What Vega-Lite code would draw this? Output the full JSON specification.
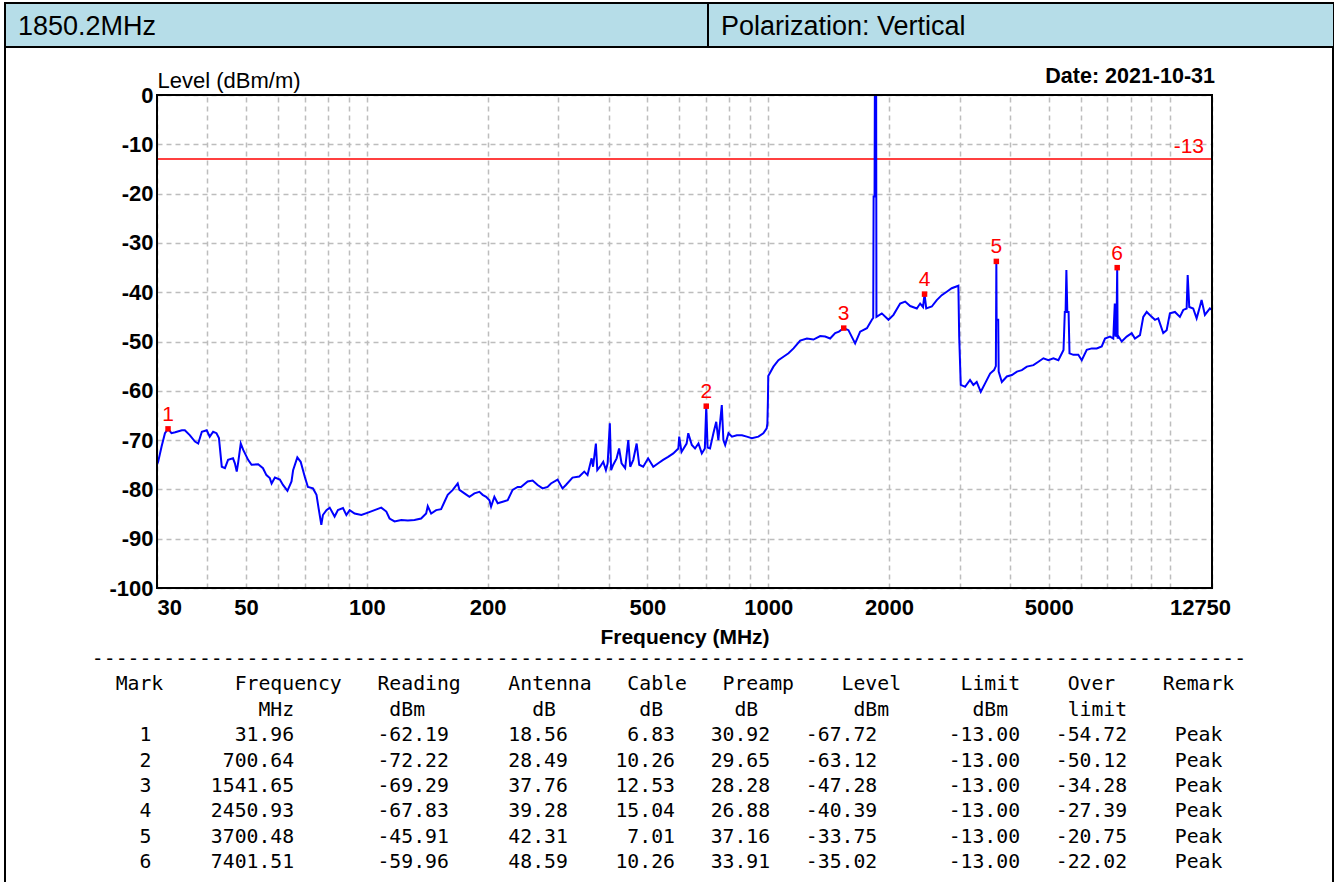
{
  "$schema": "https://vega.github.io/schema/vega-lite/v6.json",
  "width": 1328,
  "height": 899,
  "autosize": {"type": "none"},
  "padding": {"left": 5, "top": 3, "right": 5, "bottom": -20},
  "background": "white",
  "config": {"view": {"stroke": "#000000", "strokeWidth": 2}},
  "datasets": {
    "trace": [
      {"f":30,"l":-75.0},{"f":30.2,"l":-74.4},{"f":30.8,"l":-71.3},{"f":31.4,"l":-68.6},{"f":31.96,"l":-67.72},{"f":32.6,"l":-68.6},{"f":33.3,"l":-68.4},{"f":34.6,"l":-68.0},{"f":35.2,"l":-68.0},{"f":36.2,"l":-69.0},{"f":37.3,"l":-70.3},{"f":38.0,"l":-70.7},{"f":38.8,"l":-68.3},{"f":39.9,"l":-68.0},{"f":40.6,"l":-69.3},{"f":41.4,"l":-68.3},{"f":42.2,"l":-68.6},{"f":42.8,"l":-69.6},{"f":43.5,"l":-75.4},{"f":44.3,"l":-75.7},{"f":45.1,"l":-74.0},{"f":46.4,"l":-73.7},{"f":46.9,"l":-74.7},{"f":47.4,"l":-76.4},{"f":47.8,"l":-74.5},{"f":48.5,"l":-70.7},{"f":49.2,"l":-72.0},{"f":50.6,"l":-74.0},{"f":51.6,"l":-75.0},{"f":53.6,"l":-74.9},{"f":55.1,"l":-75.7},{"f":56.2,"l":-77.1},{"f":57.3,"l":-77.7},{"f":57.9,"l":-78.8},{"f":59.0,"l":-77.6},{"f":60.7,"l":-78.0},{"f":61.8,"l":-79.1},{"f":63.4,"l":-80.3},{"f":64.9,"l":-78.4},{"f":65.5,"l":-76.1},{"f":67.1,"l":-73.5},{"f":68.4,"l":-74.4},{"f":70.0,"l":-77.4},{"f":71.3,"l":-79.5},{"f":73.4,"l":-79.8},{"f":74.9,"l":-81.1},{"f":75.8,"l":-83.8},{"f":77.0,"l":-87.2},{"f":77.7,"l":-85.2},{"f":79.3,"l":-84.2},{"f":80.8,"l":-83.7},{"f":83.1,"l":-85.5},{"f":84.7,"l":-84.2},{"f":87.2,"l":-83.8},{"f":88.9,"l":-85.2},{"f":90.6,"l":-84.2},{"f":93.2,"l":-84.9},{"f":96.9,"l":-85.2},{"f":100.6,"l":-84.7},{"f":104.5,"l":-84.2},{"f":108.6,"l":-83.7},{"f":111.8,"l":-84.5},{"f":113.9,"l":-85.9},{"f":117.2,"l":-86.5},{"f":121.8,"l":-86.2},{"f":126.5,"l":-86.3},{"f":131.4,"l":-86.2},{"f":136.5,"l":-85.9},{"f":140.5,"l":-84.9},{"f":141.8,"l":-83.4},{"f":144.6,"l":-84.9},{"f":148.8,"l":-84.2},{"f":153.1,"l":-84.0},{"f":156.1,"l":-82.5},{"f":159.0,"l":-81.1},{"f":163.7,"l":-80.1},{"f":168.4,"l":-78.8},{"f":170.1,"l":-80.1},{"f":175.0,"l":-80.8},{"f":180.1,"l":-81.5},{"f":185.3,"l":-80.8},{"f":190.7,"l":-80.5},{"f":194.3,"l":-81.1},{"f":198.2,"l":-81.5},{"f":202.0,"l":-82.2},{"f":203.9,"l":-83.5},{"f":207.8,"l":-81.5},{"f":211.8,"l":-82.8},{"f":218.0,"l":-82.5},{"f":224.3,"l":-82.2},{"f":230.7,"l":-80.1},{"f":237.5,"l":-79.5},{"f":242.1,"l":-79.5},{"f":251.5,"l":-78.4},{"f":258.8,"l":-78.2},{"f":266.3,"l":-79.1},{"f":274.0,"l":-79.8},{"f":282.0,"l":-79.5},{"f":287.5,"l":-78.8},{"f":298.6,"l":-78.0},{"f":307.2,"l":-79.8},{"f":313.2,"l":-79.1},{"f":325.3,"l":-77.6},{"f":338.2,"l":-77.4},{"f":348.0,"l":-76.4},{"f":354.6,"l":-77.1},{"f":363,"l":-73.7},{"f":366,"l":-75.4},{"f":372,"l":-70.7},{"f":375,"l":-76.1},{"f":381,"l":-75.4},{"f":388,"l":-74.4},{"f":394,"l":-76.1},{"f":398,"l":-74.7},{"f":403,"l":-66.6},{"f":406,"l":-76.1},{"f":411,"l":-75.0},{"f":419,"l":-73.7},{"f":425,"l":-71.7},{"f":431,"l":-74.7},{"f":440,"l":-75.7},{"f":448,"l":-70.0},{"f":453,"l":-75.4},{"f":461,"l":-74.0},{"f":470,"l":-70.7},{"f":477,"l":-75.0},{"f":488,"l":-75.4},{"f":502,"l":-73.7},{"f":517,"l":-75.4},{"f":532,"l":-74.7},{"f":547,"l":-74.0},{"f":563,"l":-73.4},{"f":580,"l":-72.7},{"f":597,"l":-71.7},{"f":600,"l":-69.3},{"f":608,"l":-72.4},{"f":626,"l":-70.7},{"f":632,"l":-68.6},{"f":645,"l":-71.0},{"f":657,"l":-71.7},{"f":670,"l":-70.7},{"f":683,"l":-72.7},{"f":695,"l":-71.7},{"f":700.64,"l":-63.12},{"f":706,"l":-71.5},{"f":716,"l":-71.7},{"f":730,"l":-68.6},{"f":742,"l":-66.3},{"f":751,"l":-70.0},{"f":766,"l":-62.9},{"f":773,"l":-70.0},{"f":781,"l":-71.0},{"f":796,"l":-68.6},{"f":812,"l":-69.3},{"f":835,"l":-69.0},{"f":860,"l":-69.0},{"f":884,"l":-69.3},{"f":910,"l":-69.6},{"f":945,"l":-69.3},{"f":972,"l":-68.6},{"f":991,"l":-67.6},{"f":995,"l":-66.6},{"f":998,"l":-62.0},{"f":1000,"l":-57.0},{"f":1030,"l":-55.1},{"f":1060,"l":-53.8},{"f":1091,"l":-53.1},{"f":1123,"l":-52.4},{"f":1156,"l":-51.4},{"f":1201,"l":-49.8},{"f":1248,"l":-49.4},{"f":1296,"l":-49.6},{"f":1347,"l":-48.9},{"f":1386,"l":-49.0},{"f":1426,"l":-49.4},{"f":1468,"l":-48.3},{"f":1500,"l":-48.0},{"f":1541.65,"l":-47.28},{"f":1584,"l":-47.7},{"f":1646,"l":-50.4},{"f":1694,"l":-48.0},{"f":1761,"l":-47.3},{"f":1812,"l":-45.6},{"f":1826,"l":-45.2},{"f":1830,"l":-20.6},{"f":1840,"l":-20.6},{"f":1843,"l":0},{"f":1857,"l":0},{"f":1860,"l":-45.0},{"f":1918,"l":-44.3},{"f":1993,"l":-45.6},{"f":2051,"l":-44.6},{"f":2131,"l":-42.3},{"f":2193,"l":-41.9},{"f":2257,"l":-42.8},{"f":2345,"l":-43.3},{"f":2390,"l":-42.3},{"f":2430,"l":-43.0},{"f":2450.93,"l":-40.39},{"f":2475,"l":-43.3},{"f":2555,"l":-42.9},{"f":2629,"l":-41.6},{"f":2705,"l":-40.6},{"f":2784,"l":-39.9},{"f":2865,"l":-39.2},{"f":2976,"l":-38.7},{"f":2990,"l":-49.0},{"f":3017,"l":-58.8},{"f":3093,"l":-59.2},{"f":3182,"l":-57.8},{"f":3243,"l":-58.8},{"f":3306,"l":-58.2},{"f":3384,"l":-60.2},{"f":3469,"l":-58.5},{"f":3570,"l":-56.5},{"f":3652,"l":-55.8},{"f":3690,"l":-55.0},{"f":3700.48,"l":-33.75},{"f":3706,"l":-45.6},{"f":3740,"l":-45.6},{"f":3750,"l":-56.1},{"f":3819,"l":-58.2},{"f":3930,"l":-57.1},{"f":4045,"l":-56.8},{"f":4164,"l":-56.1},{"f":4283,"l":-55.8},{"f":4408,"l":-55.1},{"f":4578,"l":-54.8},{"f":4710,"l":-54.1},{"f":4847,"l":-53.4},{"f":4988,"l":-53.8},{"f":5133,"l":-53.4},{"f":5282,"l":-53.8},{"f":5440,"l":-51.7},{"f":5480,"l":-44.0},{"f":5505,"l":-44.0},{"f":5530,"l":-35.5},{"f":5560,"l":-44.0},{"f":5600,"l":-44.0},{"f":5630,"l":-52.4},{"f":5756,"l":-52.7},{"f":5922,"l":-52.7},{"f":6040,"l":-53.8},{"f":6215,"l":-51.7},{"f":6396,"l":-51.4},{"f":6582,"l":-51.4},{"f":6773,"l":-51.0},{"f":6902,"l":-49.4},{"f":7103,"l":-49.0},{"f":7237,"l":-49.4},{"f":7300,"l":-42.3},{"f":7330,"l":-49.0},{"f":7370,"l":-48.5},{"f":7401.51,"l":-35.02},{"f":7420,"l":-49.4},{"f":7460,"l":-49.0},{"f":7596,"l":-50.0},{"f":7816,"l":-49.0},{"f":8043,"l":-48.3},{"f":8195,"l":-49.4},{"f":8435,"l":-48.7},{"f":8596,"l":-45.0},{"f":8766,"l":-44.0},{"f":9021,"l":-45.0},{"f":9192,"l":-45.6},{"f":9366,"l":-45.3},{"f":9639,"l":-48.3},{"f":9829,"l":-47.7},{"f":10015,"l":-44.3},{"f":10308,"l":-44.0},{"f":10606,"l":-45.0},{"f":10810,"l":-43.6},{"f":11023,"l":-43.3},{"f":11090,"l":-36.5},{"f":11190,"l":-43.0},{"f":11447,"l":-43.3},{"f":11674,"l":-45.3},{"f":11896,"l":-42.9},{"f":12010,"l":-41.6},{"f":12242,"l":-44.6},{"f":12597,"l":-43.3},{"f":12750,"l":-43.6}
    ],
    "markers": [
      {"mark":"1","f":31.96,"l":-67.72},
      {"mark":"2","f":700.64,"l":-63.12},
      {"mark":"3","f":1541.65,"l":-47.28},
      {"mark":"4","f":2450.93,"l":-40.39},
      {"mark":"5","f":3700.48,"l":-33.75},
      {"mark":"6","f":7401.51,"l":-35.02}
    ],
    "header": [
      {"row":"header","cell":"1850.2MHz"},
      {"row":"header","cell":"Polarization: Vertical"}
    ],
    "table": [
      {"line":"sep","text":"-------------------------------------------------------------------------------------------------"},
      {"line":"h1","text":"\u200b\u00a0\u00a0Mark\u00a0\u00a0\u00a0\u00a0\u00a0\u00a0Frequency\u00a0\u00a0\u00a0Reading\u00a0\u00a0\u00a0\u00a0Antenna\u00a0\u00a0\u00a0Cable\u00a0\u00a0\u00a0Preamp\u00a0\u00a0\u00a0\u00a0Level\u00a0\u00a0\u00a0\u00a0\u00a0Limit\u00a0\u00a0\u00a0\u00a0Over\u00a0\u00a0\u00a0\u00a0Remark\u00a0\u200b"},
      {"line":"h2","text":"\u200b\u00a0\u00a0\u00a0\u00a0\u00a0\u00a0\u00a0\u00a0\u00a0\u00a0\u00a0\u00a0\u00a0\u00a0MHz\u00a0\u00a0\u00a0\u00a0\u00a0\u00a0\u00a0\u00a0dBm\u00a0\u00a0\u00a0\u00a0\u00a0\u00a0\u00a0\u00a0\u00a0dB\u00a0\u00a0\u00a0\u00a0\u00a0\u00a0\u00a0dB\u00a0\u00a0\u00a0\u00a0\u00a0\u00a0dB\u00a0\u00a0\u00a0\u00a0\u00a0\u00a0\u00a0\u00a0dBm\u00a0\u00a0\u00a0\u00a0\u00a0\u00a0\u00a0dBm\u00a0\u00a0\u00a0\u00a0\u00a0limit\u00a0\u00a0\u00a0\u00a0\u00a0\u00a0\u00a0\u00a0\u00a0\u00a0\u200b"},
      {"line":"1","text":"\u200b\u00a0\u00a0\u00a0\u00a01\u00a0\u00a0\u00a0\u00a0\u00a0\u00a0\u00a031.96\u00a0\u00a0\u00a0\u00a0\u00a0\u00a0\u00a0-62.19\u00a0\u00a0\u00a0\u00a0\u00a018.56\u00a0\u00a0\u00a0\u00a0\u00a06.83\u00a0\u00a0\u00a030.92\u00a0\u00a0\u00a0-67.72\u00a0\u00a0\u00a0\u00a0\u00a0\u00a0-13.00\u00a0\u00a0\u00a0-54.72\u00a0\u00a0\u00a0\u00a0Peak\u00a0\u00a0\u200b"},
      {"line":"2","text":"\u200b\u00a0\u00a0\u00a0\u00a02\u00a0\u00a0\u00a0\u00a0\u00a0\u00a0700.64\u00a0\u00a0\u00a0\u00a0\u00a0\u00a0\u00a0-72.22\u00a0\u00a0\u00a0\u00a0\u00a028.49\u00a0\u00a0\u00a0\u00a010.26\u00a0\u00a0\u00a029.65\u00a0\u00a0\u00a0-63.12\u00a0\u00a0\u00a0\u00a0\u00a0\u00a0-13.00\u00a0\u00a0\u00a0-50.12\u00a0\u00a0\u00a0\u00a0Peak\u00a0\u00a0\u200b"},
      {"line":"3","text":"\u200b\u00a0\u00a0\u00a0\u00a03\u00a0\u00a0\u00a0\u00a0\u00a01541.65\u00a0\u00a0\u00a0\u00a0\u00a0\u00a0\u00a0-69.29\u00a0\u00a0\u00a0\u00a0\u00a037.76\u00a0\u00a0\u00a0\u00a012.53\u00a0\u00a0\u00a028.28\u00a0\u00a0\u00a0-47.28\u00a0\u00a0\u00a0\u00a0\u00a0\u00a0-13.00\u00a0\u00a0\u00a0-34.28\u00a0\u00a0\u00a0\u00a0Peak\u00a0\u00a0\u200b"},
      {"line":"4","text":"\u200b\u00a0\u00a0\u00a0\u00a04\u00a0\u00a0\u00a0\u00a0\u00a02450.93\u00a0\u00a0\u00a0\u00a0\u00a0\u00a0\u00a0-67.83\u00a0\u00a0\u00a0\u00a0\u00a039.28\u00a0\u00a0\u00a0\u00a015.04\u00a0\u00a0\u00a026.88\u00a0\u00a0\u00a0-40.39\u00a0\u00a0\u00a0\u00a0\u00a0\u00a0-13.00\u00a0\u00a0\u00a0-27.39\u00a0\u00a0\u00a0\u00a0Peak\u00a0\u00a0\u200b"},
      {"line":"5","text":"\u200b\u00a0\u00a0\u00a0\u00a05\u00a0\u00a0\u00a0\u00a0\u00a03700.48\u00a0\u00a0\u00a0\u00a0\u00a0\u00a0\u00a0-45.91\u00a0\u00a0\u00a0\u00a0\u00a042.31\u00a0\u00a0\u00a0\u00a0\u00a07.01\u00a0\u00a0\u00a037.16\u00a0\u00a0\u00a0-33.75\u00a0\u00a0\u00a0\u00a0\u00a0\u00a0-13.00\u00a0\u00a0\u00a0-20.75\u00a0\u00a0\u00a0\u00a0Peak\u00a0\u00a0\u200b"},
      {"line":"6","text":"\u200b\u00a0\u00a0\u00a0\u00a06\u00a0\u00a0\u00a0\u00a0\u00a07401.51\u00a0\u00a0\u00a0\u00a0\u00a0\u00a0\u00a0-59.96\u00a0\u00a0\u00a0\u00a0\u00a048.59\u00a0\u00a0\u00a0\u00a010.26\u00a0\u00a0\u00a033.91\u00a0\u00a0\u00a0-35.02\u00a0\u00a0\u00a0\u00a0\u00a0\u00a0-13.00\u00a0\u00a0\u00a0-22.02\u00a0\u00a0\u00a0\u00a0Peak\u00a0\u00a0\u200b"}
    ]
  },
  "resolve": {
    "scale": {"x": "independent", "y": "independent"},
    "axis": {"x": "independent", "y": "independent"}
  },
  "layer": [
    {
      "resolve": {"axis": {"x": "independent"}},
      "layer": [
        {
          "data": {"values": [{"limit": -13}]},
          "mark": {"type": "rule", "color": "#ff0000", "strokeWidth": 1.5},
          "encoding": {
            "x": {"datum": 30, "axis": null},
            "x2": {"datum": 12750},
            "y": {"field": "limit", "type": "quantitative"}
          }
        },
        {
          "data": {"name": "trace"},
          "mark": {"type": "line", "color": "#0000ff", "strokeWidth": 2},
          "encoding": {
            "x": {
              "field": "f", "type": "quantitative",
              "scale": {"type": "log", "domain": [30, 12750], "range": [152, 1207], "nice": false},
              "axis": {
                "orient": "bottom",
                "title": "Frequency (MHz)",
                "offset": -314,
                "values": [30,40,50,60,70,80,90,100,200,300,400,500,600,700,800,900,1000,2000,3000,4000,5000,6000,7000,8000,9000,10000,12750],
                "labelExpr": "indexof([30,50,100,200,500,1000,2000,5000,12750], datum.value) >= 0 ? toString(datum.value) : ''",
                "labelFlush": false, "labelOverlap": false, "labelBound": false,
                "labelAlign": {"condition": {"test": "datum.value <= 30", "value": "left"}, "value": "center"},
                "labelOffset": {"condition": {"test": "datum.value >= 12750", "value": -12}, "value": 0},
                "labelFont": "Liberation Sans", "labelFontWeight": "bold", "labelFontSize": 22, "labelColor": "#000000",
                "labelPadding": 9,
                "ticks": false, "domain": false, "grid": false,
                "titleFont": "Liberation Sans", "titleFontWeight": "bold", "titleFontSize": 21, "titleColor": "#000000",
                "titlePadding": 8
              }
            },
            "y": {
              "field": "l", "type": "quantitative",
              "scale": {"domain": [-100, 0], "range": [585, 92], "nice": false, "zero": false},
              "axis": {
                "title": "Level (dBm/m)",
                "titleAngle": 0, "titleAlign": "left", "titleBaseline": "alphabetic",
                "titleX": 0, "titleY": 84,
                "titleFont": "Liberation Sans", "titleFontWeight": "normal", "titleFontSize": 22, "titleColor": "#000000",
                "offset": -152,
                "values": [-100,-90,-80,-70,-60,-50,-40,-30,-20,-10,0],
                "labelExpr": "toString(datum.value)",
                "labelFont": "Liberation Sans", "labelFontWeight": "bold", "labelFontSize": 22, "labelColor": "#000000",
                "labelPadding": 4, "labelFlush": false, "labelOverlap": false, "labelBound": false,
                "ticks": false, "domain": false,
                "grid": true, "gridColor": "#bdbdbd", "gridDash": [5, 4], "gridWidth": 1.5
              }
            }
          }
        },
        {
          "data": {"values": [{"limit": -13}]},
          "mark": {"type": "text", "align": "right", "baseline": "alphabetic", "dx": -8, "dy": -6, "font": "Liberation Sans", "fontSize": 21, "color": "#ff0000"},
          "encoding": {
            "x": {"datum": 12750, "axis": null},
            "y": {"field": "limit", "type": "quantitative"},
            "text": {"field": "limit", "type": "nominal"}
          }
        },
        {
          "data": {"name": "markers"},
          "mark": {"type": "point", "shape": "square", "filled": true, "color": "#ff0000", "size": 30, "opacity": 1},
          "encoding": {
            "x": {
              "field": "f", "type": "quantitative",
              "axis": {
                "orient": "top", "offset": 0,
                "values": [30,40,50,60,70,80,90,100,200,300,400,500,600,700,800,900,1000,2000,3000,4000,5000,6000,7000,8000,9000,10000,12750],
                "labels": false, "ticks": false, "domain": false, "title": null,
                "grid": true, "gridColor": "#bdbdbd", "gridDash": [5, 4], "gridWidth": 1.5
              }
            },
            "y": {"field": "l", "type": "quantitative"}
          }
        },
        {
          "data": {"name": "markers"},
          "mark": {"type": "text", "align": "center", "baseline": "alphabetic", "dy": -8, "font": "Liberation Sans", "fontSize": 21, "color": "#ff0000"},
          "encoding": {
            "x": {"field": "f", "type": "quantitative", "axis": null},
            "y": {"field": "l", "type": "quantitative"},
            "text": {"field": "mark", "type": "nominal"}
          }
        },
        {
          "data": {"values": [{"date": "Date: 2021-10-31"}]},
          "mark": {"type": "text", "align": "right", "baseline": "alphabetic", "dx": 3, "dy": -12, "font": "Liberation Sans", "fontWeight": "bold", "fontSize": 21.5, "color": "#000000"},
          "encoding": {
            "x": {"datum": 12750, "axis": null},
            "y": {"datum": 0},
            "text": {"field": "date", "type": "nominal"}
          }
        },
        {
          "data": {"values": [{"frame": "plot"}]},
          "mark": {"type": "rect", "fill": "transparent", "stroke": "#000000", "strokeWidth": 2},
          "encoding": {
            "x": {"datum": 30, "axis": null},
            "x2": {"datum": 12750},
            "y": {"datum": -100},
            "y2": {"datum": 0}
          }
        }
      ]
    },
    {
      "data": {"name": "header"},
      "encoding": {
        "x": {"field": "cell", "type": "nominal", "sort": null,
              "scale": {"type": "band", "domain": ["1850.2MHz", "Polarization: Vertical"], "range": [0, 1406], "paddingInner": 0, "paddingOuter": 0},
              "axis": null},
        "y": {"field": "row", "type": "nominal",
              "scale": {"type": "band", "domain": ["header"], "range": [0, 44], "paddingInner": 0, "paddingOuter": 0},
              "axis": null}
      },
      "layer": [
        {"mark": {"type": "rect", "fill": "#b6dde8", "stroke": "#000000", "strokeWidth": 2, "clip": true}},
        {
          "mark": {"type": "text", "align": "left", "baseline": "middle", "dx": 13, "dy": 2, "font": "Liberation Sans", "fontSize": 27, "color": "#000000"},
          "encoding": {
            "x": {"field": "cell", "type": "nominal", "bandPosition": 0, "axis": null},
            "text": {"field": "cell", "type": "nominal"}
          }
        }
      ]
    },
    {
      "data": {"name": "table"},
      "mark": {"type": "text", "align": "center", "baseline": "alphabetic", "font": "DejaVu Sans Mono", "fontSize": 19.78, "color": "#000000"},
      "encoding": {
        "y": {"field": "line", "type": "ordinal", "sort": null,
              "scale": {"type": "point", "domain": ["sep","h1","h2","1","2","3","4","5","6"], "range": [662, 865], "padding": 0},
              "axis": null},
        "text": {"field": "text", "type": "nominal"}
      }
    }
  ]
}
